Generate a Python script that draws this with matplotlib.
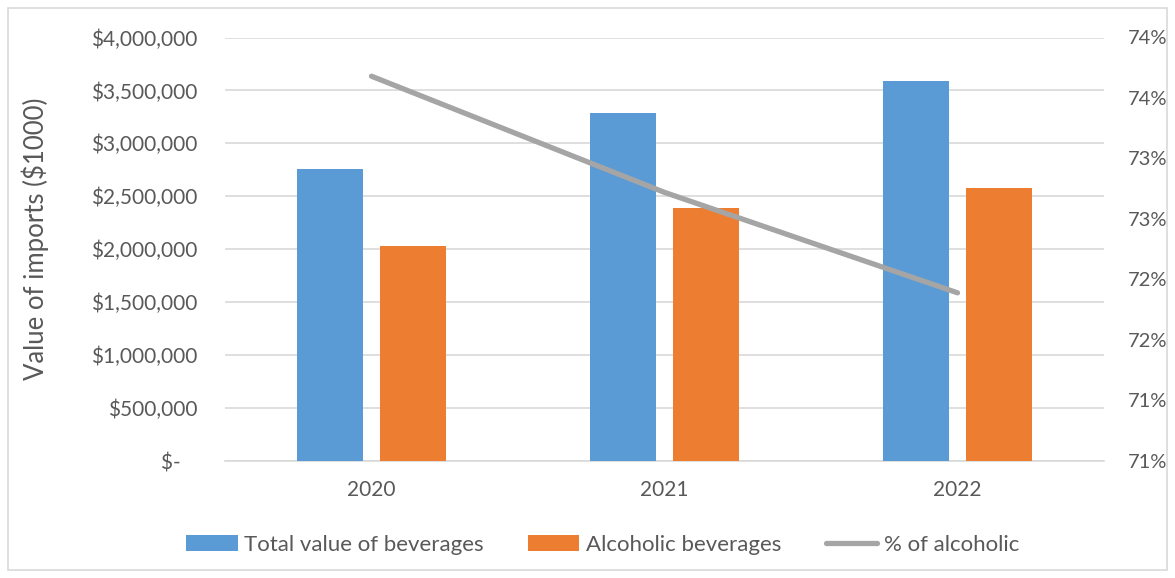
import math
import matplotlib.pyplot as plt
import numpy as np
from matplotlib.ticker import FuncFormatter, MultipleLocator
from matplotlib.patches import Rectangle

years = ['2020', '2021', '2022']
total_bev = [2757000, 3286000, 3588000]
alcoholic_bev = [2030000, 2386000, 2578000]
pct_alcoholic = [0.7368, 0.7272, 0.7189]

blue = '#5B9BD5'
orange = '#ED7D31'
grey = '#A5A5A5'
txt = '#595959'

plt.rcParams['font.family'] = ['Lato', 'DejaVu Sans']

fig = plt.figure(figsize=(11.75, 5.78), dpi=100)
ax = fig.add_axes([225/1175, 1 - 461/578, (1104 - 225)/1175, (461 - 37.5)/578])
ax2 = ax.twinx()

x = np.arange(len(years))
w = 0.225
ax.bar(x - 0.141, total_bev, w, color=blue, label='Total value of beverages', zorder=3)
ax.bar(x + 0.141, alcoholic_bev, w, color=orange, label='Alcoholic beverages', zorder=3)
ln, = ax2.plot(x, pct_alcoholic, color=grey, lw=3.8, solid_capstyle='round', label='% of alcoholic')

ax.set_xlim(-0.5, 2.5)
ax.set_ylim(0, 4000000)
ax.yaxis.set_major_locator(MultipleLocator(500000))
def money(v, p):
    if v == 0:
        return '$-   '
    return '${:,.0f}'.format(v)
ax.yaxis.set_major_formatter(FuncFormatter(money))
ax.grid(axis='y', color='#D9D9D9', lw=1.2, zorder=0)
ax.set_axisbelow(True)

ax2.set_ylim(0.705, 0.74)
ax2.set_yticks([0.705 + 0.005*i for i in range(8)])
ax2.yaxis.set_major_formatter(FuncFormatter(lambda v, p: '{}%'.format(math.floor(v*100 + 0.5 + 1e-9))))

ax.set_xticks(x)
ax.set_xticklabels(years)
for a in (ax, ax2):
    for s in a.spines.values():
        s.set_visible(False)
    a.tick_params(length=0, labelsize=15, colors=txt)
ax.spines['bottom'].set_visible(True)
ax.spines['bottom'].set_color('#D9D9D9')
ax.spines['bottom'].set_linewidth(1.2)
ax.tick_params(axis='y', pad=20)
ax.tick_params(axis='x', pad=14)
ax2.tick_params(axis='y', pad=17, labelsize=14.5)
ax.set_ylabel('Value of imports ($1000)', fontsize=18.5, color=txt)
ax.yaxis.set_label_coords(-0.2, 0.524)

h1, l1 = ax.get_legend_handles_labels()
leg = fig.legend(h1 + [ln], l1 + [ln.get_label()], loc='center', bbox_to_anchor=(0.513, 1 - 545/578),
                 ncol=3, frameon=False, fontsize=16, handlelength=2.3, handleheight=0.75,
                 handletextpad=0.3, columnspacing=2.0, labelcolor=txt)

fig.patches.append(Rectangle((8/1175, 8/578), 1 - 16/1175, 1 - 16/578, transform=fig.transFigure,
                             fill=False, edgecolor='#D9D9D9', lw=1.2))

fig.savefig('out.png', dpi=100)
